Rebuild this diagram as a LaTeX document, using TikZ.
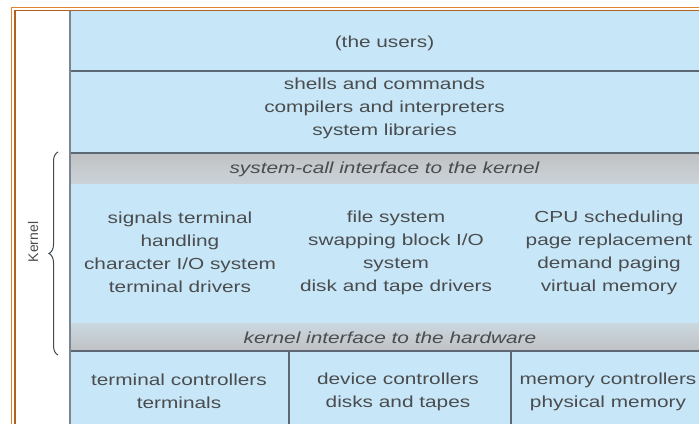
\documentclass[tikz,border=0pt]{standalone}
\usepackage{fontspec}
\setmainfont{Liberation Sans}[FakeStretch=1.3]
\newfontfamily\plainsans{Liberation Sans}
\usetikzlibrary{decorations.pathreplacing}
\definecolor{layerblue}{RGB}{199,231,248}
\definecolor{bandgrey}{RGB}{204,206,208}
\definecolor{rulegrey}{RGB}{92,104,116}
\definecolor{inkgrey}{RGB}{74,76,78}
\definecolor{frameorange}{RGB}{224,132,46}
\definecolor{framebrown}{RGB}{180,96,30}
\begin{document}
\begin{tikzpicture}[x=1pt,y=1pt,
  txt/.style={text=inkgrey, align=center, inner sep=0pt,
              font=\fontsize{16}{23}\selectfont},
  bandtxt/.style={txt, font=\fontsize{16}{23}\selectfont\itshape},
  rule/.style={draw=rulegrey, line width=1.3pt},
  edge/.style={draw=rulegrey!80, line width=1.6pt}]
\useasboundingbox (0,0) rectangle (699,424);
\fill[white] (0,0) rectangle (699,424);

% layer backgrounds
\fill[layerblue] (70,0) rectangle (699,413);
\shade[top color=bandgrey!94!black, bottom color=bandgrey!80!layerblue]
  (70,241) rectangle (699,271);
\shade[top color=bandgrey!60!layerblue, bottom color=bandgrey!94!black]
  (70,73) rectangle (699,101);

% layer rules
\draw[rule] (70,353) -- (699,353);
\draw[rule] (70,271) -- (699,271);
\draw[rule] (70,73) -- (699,73);
\draw[rule] (289,0) -- (289,73);
\draw[rule] (511,0) -- (511,73);
\draw[edge] (70,0) -- (70,413);

% outer frame
\draw[frameorange, line width=1.8pt] (11.5,0) -- (11.5,416.5) -- (699,416.5);
\draw[framebrown, line width=1.5pt] (14.8,0) -- (14.8,413.3) -- (699,413.3);

% texts
\node[txt] (users) at (384.5,381) {(the users)};
\node[txt] (shells) at (384.5,316) {shells and commands\\compilers and interpreters\\system libraries};
\node[bandtxt] (syscall) at (384.5,255) {system-call interface to the kernel};
\node[txt] (signals) at (180,171.5) {signals terminal\\handling\\character I/O system\\terminal drivers};
\node[txt] (files) at (396,171.5) {file system\\swapping block I/O\\system\\disk and tape drivers};
\node[txt] (cpu) at (609,171.5) {CPU scheduling\\page replacement\\demand paging\\virtual memory};
\node[bandtxt] (hwif) at (390,86) {kernel interface to the hardware};
\node[txt] (termctl) at (179,32.5) {terminal controllers\\terminals};
\node[txt] (devctl) at (398,32.5) {device controllers\\disks and tapes};
\node[txt] (memctl) at (608,32.5) {memory controllers\\physical memory};

% kernel brace
\coordinate (kbot) at (58,69);
\coordinate (ktop) at (58,272);
\draw[rulegrey!70!black, line width=1pt, decorate,
      decoration={brace, amplitude=9pt}] (kbot) -- (ktop);
\node[text=inkgrey, rotate=90, inner sep=0pt,
      font=\plainsans\fontsize{14}{16}\selectfont] (kernel) at (33,182) {Kernel};
\end{tikzpicture}
\end{document}
